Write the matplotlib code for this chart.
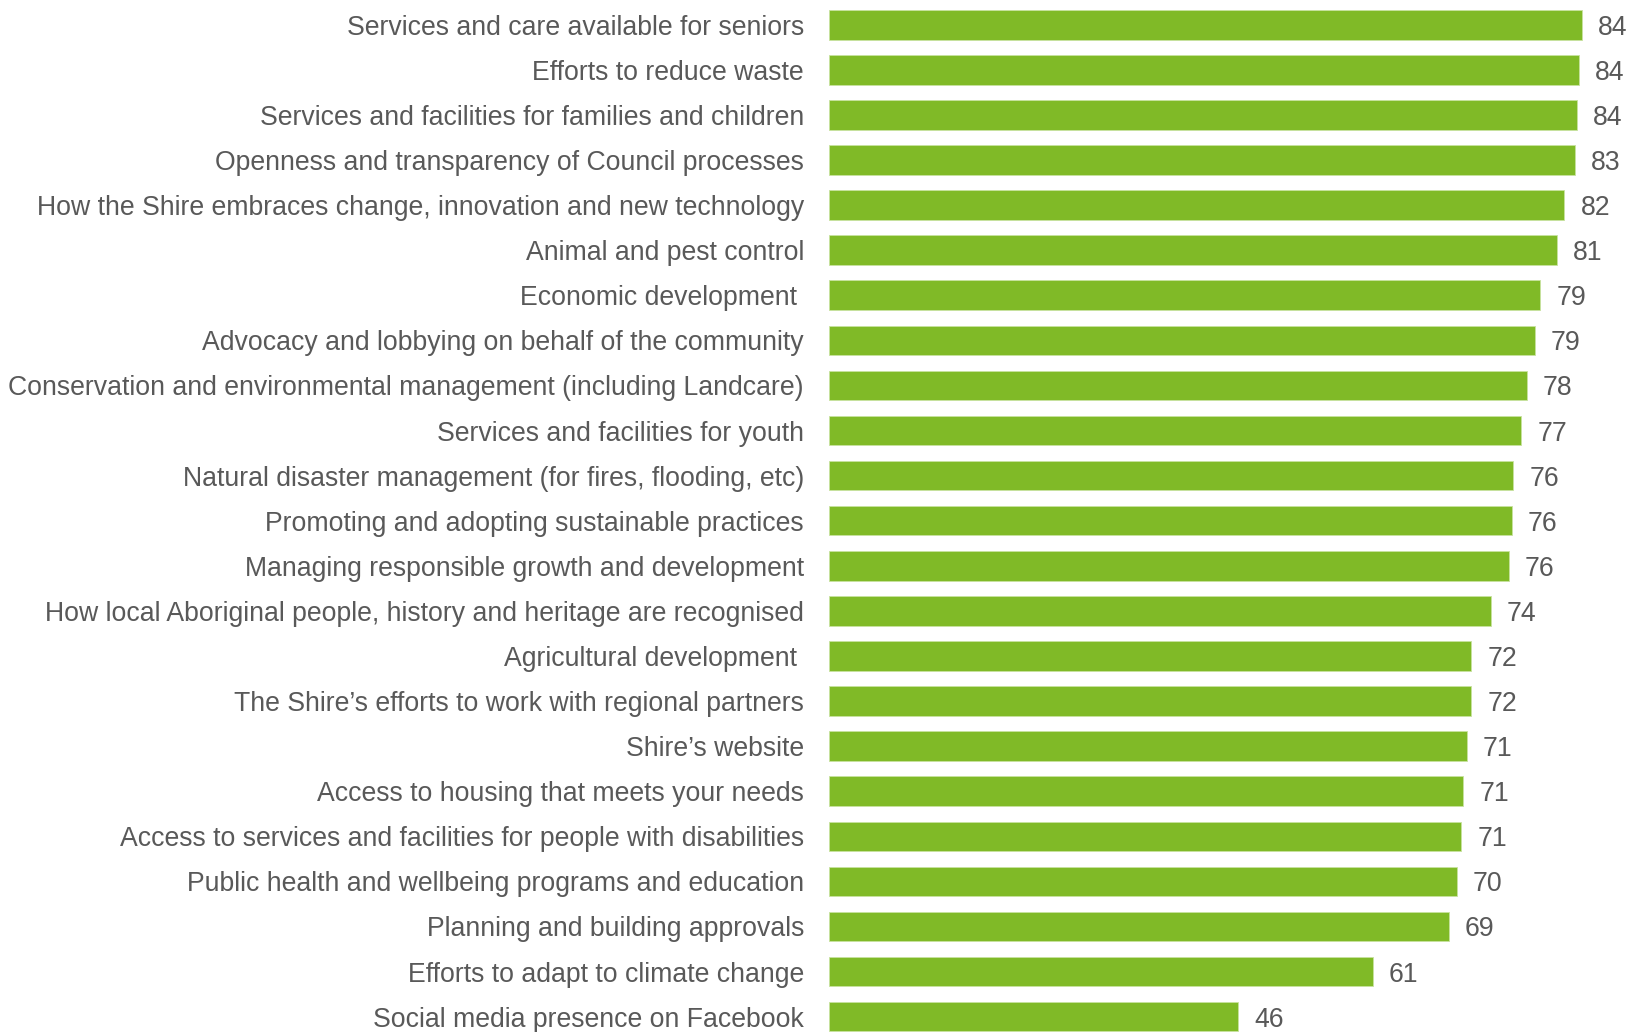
import matplotlib
matplotlib.use("Agg")
from matplotlib import pyplot as plt

categories = [
    "Services and care available for seniors",
    "Efforts to reduce waste",
    "Services and facilities for families and children",
    "Openness and transparency of Council processes",
    "How the Shire embraces change, innovation and new technology",
    "Animal and pest control",
    "Economic development ",
    "Advocacy and lobbying on behalf of the community",
    "Conservation and environmental management (including Landcare)",
    "Services and facilities for youth",
    "Natural disaster management (for fires, flooding, etc)",
    "Promoting and adopting sustainable practices",
    "Managing responsible growth and development",
    "How local Aboriginal people, history and heritage are recognised",
    "Agricultural development ",
    "The Shire\u2019s efforts to work with regional partners",
    "Shire\u2019s website",
    "Access to housing that meets your needs",
    "Access to services and facilities for people with disabilities",
    "Public health and wellbeing programs and education",
    "Planning and building approvals",
    "Efforts to adapt to climate change",
    "Social media presence on Facebook",
]
values = [84.0, 83.7, 83.5, 83.3, 82.1, 81.3, 79.4, 78.8, 77.9, 77.3, 76.4, 76.2,
          75.9, 73.9, 71.7, 71.7, 71.2, 70.8, 70.6, 70.1, 69.2, 60.7, 45.7]
labels = ["%.0f" % v for v in values]

plt.rcParams['font.family'] = ['Liberation Sans', 'DejaVu Sans']
txt = "#595959"
fs = 19.2

fig = plt.figure(figsize=(16.29, 10.32), dpi=100)
ax = fig.add_axes([829 / 1629, -7.2 / 1032, 800 / 1629, 1037 / 1032])

pos = list(range(len(categories)))
bars = ax.barh(pos, values, height=0.655, color="#80BA27", edgecolor="#C8E2A0", linewidth=0.6)
for b, lab in zip(bars, labels):
    ax.annotate(lab, (b.get_width(), b.get_y() + b.get_height() / 2),
                xytext=(11.5, 0), textcoords="offset points",
                ha="left", va="center_baseline", fontsize=fs, color=txt)

ax.set_xlim(0, 89.3)
ax.set_ylim(22.5, -0.5)
ax.set_yticks(pos)
ax.set_yticklabels(categories, fontsize=fs, color=txt, va="center_baseline")
ax.tick_params(axis="y", length=0, pad=18)
ax.set_xticks([])
for s in ax.spines.values():
    s.set_visible(False)

fig.savefig("out.png", dpi=100)
